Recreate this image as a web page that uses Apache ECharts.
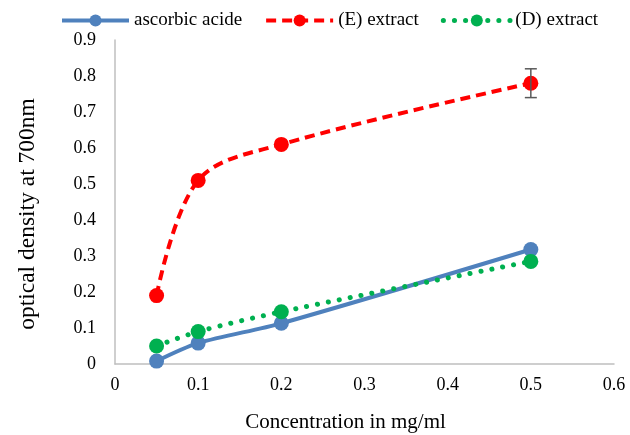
<!DOCTYPE html>
<html>
<head>
<meta charset="utf-8">
<script src="https://cdn.jsdelivr.net/npm/echarts@6/dist/echarts.min.js"></script>
<style>
  html, body { margin: 0; padding: 0; background: #fff; }
  #chart { width: 630px; height: 435px; }
</style>
</head>
<body>
<div id="chart"></div>
<script>
// Concentrations (mg/ml)
const concentrations = [0.05, 0.1, 0.2, 0.5];
// Optical density at 700nm for each sample
const ascorbicAcid = [0.008, 0.058, 0.113, 0.318];
const extractE = [0.19, 0.51, 0.61, 0.78];
const extractD = [0.05, 0.09, 0.145, 0.285];
// Standard deviation shown for the (E) extract
const extractEError = [0, 0, 0, 0.04];

const xTicks = [0, 0.1, 0.2, 0.3, 0.4, 0.5, 0.6];
const yTicks = [0, 0.1, 0.2, 0.3, 0.4, 0.5, 0.6, 0.7, 0.8, 0.9];

const pairs = (ys) => concentrations.map((x, i) => [x, ys[i]]);
const font = '"Liberation Serif", "Times New Roman", serif';

const blueLine = { color: '#4f81bd', width: 4 };
const redLine = { color: '#ff0000', width: 4, type: [10, 6] };
const greenLine = { color: '#00b050', width: 5, type: [0.1, 11], cap: 'round' };

const chart = echarts.init(document.getElementById('chart'));
chart.setOption({
  animation: false,
  textStyle: { fontFamily: font },
  grid: { left: 115, right: 16, top: 40, bottom: 71, containLabel: false, outerBoundsMode: 'none' },
  legend: {
    top: 6,
    left: 55,
    itemWidth: 67,
    itemHeight: 15,
    itemGap: 22,
    textStyle: { fontFamily: font, fontSize: 19, color: '#000' },
    data: [
      { name: 'ascorbic acide', lineStyle: blueLine },
      { name: '(E) extract', lineStyle: redLine },
      { name: '(D) extract', lineStyle: greenLine }
    ]
  },
  xAxis: {
    type: 'value',
    min: xTicks[0],
    max: xTicks[xTicks.length - 1],
    interval: 0.1,
    name: 'Concentration in mg/ml',
    nameLocation: 'middle',
    nameGap: 48,
    nameTextStyle: { fontFamily: font, fontSize: 21, color: '#000', padding: [0, 38, 0, 0] },
    axisLine: { lineStyle: { color: '#bfbfbf', width: 1.5 } },
    axisTick: { show: false },
    splitLine: { show: false },
    axisLabel: { fontFamily: font, fontSize: 18, color: '#000', margin: 12,
      formatter: (v) => String(Math.round(v * 10) / 10) }
  },
  yAxis: {
    type: 'value',
    min: yTicks[0],
    max: yTicks[yTicks.length - 1],
    interval: 0.1,
    name: 'optical density at 700nm',
    nameLocation: 'middle',
    nameGap: 75,
    nameTextStyle: { fontFamily: font, fontSize: 23.5, color: '#000', padding: [0, 24, 0, 0] },
    axisLine: { show: true, lineStyle: { color: '#bfbfbf', width: 1.5 } },
    axisTick: { show: false },
    splitLine: { show: false },
    axisLabel: { fontFamily: font, fontSize: 18, color: '#000', margin: 19,
      formatter: (v) => String(Math.round(v * 10) / 10) }
  },
  series: [
    {
      name: 'ascorbic acide',
      type: 'line',
      data: pairs(ascorbicAcid),
      smooth: 0.3,
      symbol: 'circle',
      symbolSize: 15,
      lineStyle: blueLine,
      itemStyle: { color: '#4f81bd' },
      z: 3
    },
    {
      name: '(E) extract',
      type: 'line',
      data: pairs(extractE),
      smooth: 0.35,
      symbol: 'circle',
      symbolSize: 15,
      lineStyle: redLine,
      itemStyle: { color: '#ff0000' },
      z: 4
    },
    {
      name: '(D) extract',
      type: 'line',
      data: pairs(extractD),
      smooth: 0.3,
      symbol: 'circle',
      symbolSize: 15,
      lineStyle: greenLine,
      itemStyle: { color: '#00b050' },
      z: 5
    },
    {
      // Error bars on the (E) extract
      name: 'E error',
      type: 'custom',
      z: 6,
      data: concentrations.map((x, i) => [x, extractE[i], extractEError[i]]),
      renderItem: function (params, api) {
        const err = api.value(2);
        if (!err) return null;
        const x = api.value(0), y = api.value(1);
        const top = api.coord([x, y + err]);
        const bot = api.coord([x, y - err]);
        const hw = 6;
        const style = { stroke: '#595959', lineWidth: 1.5, fill: null };
        return {
          type: 'group',
          children: [
            { type: 'line', shape: { x1: top[0], y1: top[1], x2: bot[0], y2: bot[1] }, style },
            { type: 'line', shape: { x1: top[0] - hw, y1: top[1], x2: top[0] + hw, y2: top[1] }, style },
            { type: 'line', shape: { x1: bot[0] - hw, y1: bot[1], x2: bot[0] + hw, y2: bot[1] }, style }
          ]
        };
      }
    }
  ]
});
</script>
</body>
</html>
